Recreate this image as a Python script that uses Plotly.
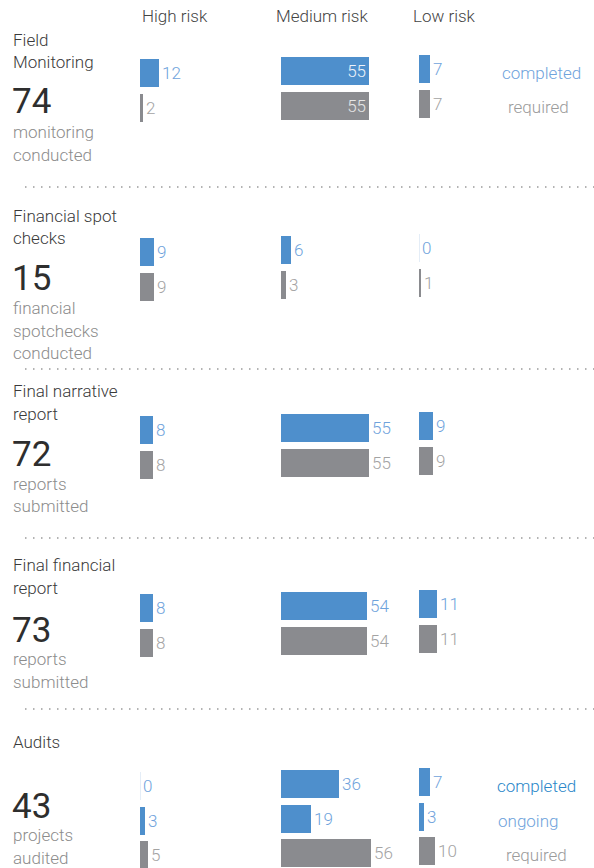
import plotly.graph_objects as go

# ---- data -----------------------------------------------------------------
risk_levels = ["High risk", "Medium risk", "Low risk"]

section_titles = ["Field<br>Monitoring", "Financial spot<br>checks",
                  "Final narrative<br>report", "Final financial<br>report", "Audits"]
section_totals = [74, 15, 72, 73, 43]
section_units = ["monitoring<br>conducted", "financial<br>spotchecks<br>conducted",
                 "reports<br>submitted", "reports<br>submitted", "projects<br>audited"]

completed = [[12, 55, 7], [9, 6, 0], [8, 55, 9], [8, 54, 11], [0, 36, 7]]
ongoing = [None, None, None, None, [3, 19, 3]]
required = [[2, 55, 7], [9, 3, 1], [8, 55, 9], [8, 54, 11], [5, 56, 10]]

# ---- styling / geometry -------------------------------------------------
W, H = 594, 868
FONT = "Roboto"
BLUE = "#4e8fcc"
GREY = "#8a8b8f"
BLUE_TXT = "#6fa3dc"
GREY_TXT = "#a3a3a3"
series_style = {
    "completed": (BLUE, BLUE_TXT, "#eef3fa"),
    "ongoing": (BLUE, BLUE_TXT, "#eef3fa"),
    "required": (GREY, GREY_TXT, "#e6e6e6"),
}
# per-section key labels: colour and horizontal centre (px)
legend_style = [
    {"completed": (BLUE_TXT, 541), "required": ("#9b9b9b", 538)},
    None, None, None,
    {"completed": ("#2a87c9", 536), "ongoing": (BLUE_TXT, 528), "required": ("#9b9b9b", 536)},
]

PX_PER_UNIT = 1.6
col_left = [140, 281, 419]
col_right = [280, 419, 594]
col_shift = [0, -1.5, -4]          # small vertical stagger per column
bar_top = [59, 238, 416, 594, 772]  # top edge of first bar row per section
PITCH = 34.5
BAR_H = 28

LEFT_X = 11
title_y = [40, 216, 391, 565, 742]
total_y = [102, 278, 454, 630, 806]
unit_y = [132, 308, 484, 659, 835]
LINE = 22.5
separators_y = [187, 369, 538, 709]
inside_label = {(0, 1)}

fig = go.Figure()
layout = dict(
    width=W, height=H, margin=dict(l=0, r=0, t=0, b=0),
    paper_bgcolor="white", plot_bgcolor="rgba(0,0,0,0)",
    showlegend=False, bargap=0,
    font=dict(family=FONT, size=17, color="#444"),
)

# x-axis per risk column, sharing a common px-per-unit scale
for c in range(3):
    key = "xaxis" if c == 0 else f"xaxis{c + 1}"
    layout[key] = dict(
        domain=[col_left[c] / W, col_right[c] / W],
        range=[0, (col_right[c] - col_left[c]) / PX_PER_UNIT],
        visible=False, fixedrange=True,
    )

shapes = []
annotations = []

for s in range(5):
    rows = [("completed", completed[s])]
    if ongoing[s] is not None:
        rows.append(("ongoing", ongoing[s]))
    rows.append(("required", required[s]))
    n = len(rows)

    for c in range(3):
        k = s * 3 + c + 1
        xref = "x" if c == 0 else f"x{c + 1}"
        yref = "y" if k == 1 else f"y{k}"
        ykey = "yaxis" if k == 1 else f"yaxis{k}"

        c0 = bar_top[s] + col_shift[c] + BAR_H / 2
        top_px = max(c0 - PITCH / 2, 0)
        bot_px = min(c0 + (n - 0.5) * PITCH, H)
        layout[ykey] = dict(
            domain=[1 - bot_px / H, 1 - top_px / H],
            range=[(bot_px - c0) / PITCH, (top_px - c0) / PITCH],
            anchor=xref, visible=False, fixedrange=True,
        )

        vals = [r[1][c] for r in rows]
        names = [r[0] for r in rows]
        inside = (s, c) in inside_label
        fig.add_trace(go.Bar(
            x=vals, y=list(range(n)), orientation="h",
            xaxis=xref, yaxis=yref, width=BAR_H / PITCH,
            marker=dict(color=[series_style[nm][0] for nm in names], line=dict(width=0)),
            text=[str(v) for v in vals],
            textposition="inside" if inside else "outside",
            insidetextanchor="end",
            textfont=dict(family=FONT, size=17, weight=300,
                          color=[series_style[nm][2 if inside else 1] for nm in names]),
            constraintext="none", cliponaxis=False, hoverinfo="skip",
        ))
        # zero-valued entries shown as a hairline at the baseline
        for i, v in enumerate(vals):
            if v == 0:
                shapes.append(dict(
                    type="line", xref=xref, yref=yref,
                    x0=v, x1=v, y0=i - BAR_H / PITCH / 2, y1=i + BAR_H / PITCH / 2,
                    line=dict(color="#c9dcef", width=1),
                ))

        if c == 0 and legend_style[s] is not None:
            for i, nm in enumerate(names):
                color, cx = legend_style[s][nm]
                annotations.append(dict(
                    text=nm, xref="paper", yref=yref, x=cx / W, y=i,
                    xanchor="center", yanchor="middle", showarrow=False,
                    font=dict(family=FONT, size=17, weight=300, color=color),
                ))

    # left-hand text block
    for j, line in enumerate(section_titles[s].split("<br>")):
        annotations.append(dict(
            text=line, xref="paper", yref="paper", x=LEFT_X / W,
            y=1 - (title_y[s] + j * LINE) / H, xanchor="left", yanchor="middle",
            showarrow=False, font=dict(family=FONT, size=17, weight=300, color="#3a3a3a"),
        ))
    annotations.append(dict(
        text=str(section_totals[s]), xref="paper", yref="paper", x=(LEFT_X - 1) / W,
        y=1 - total_y[s] / H, xanchor="left", yanchor="middle", showarrow=False,
        font=dict(family=FONT, size=35, weight=400, color="#2e2e2e"),
    ))
    for j, line in enumerate(section_units[s].split("<br>")):
        annotations.append(dict(
            text=line, xref="paper", yref="paper", x=LEFT_X / W,
            y=1 - (unit_y[s] + j * LINE) / H, xanchor="left", yanchor="middle",
            showarrow=False, font=dict(family=FONT, size=17, weight=300, color="#8c8c8c"),
        ))

# column headers
header_x = [175, 322, 444]
for c, name in enumerate(risk_levels):
    annotations.append(dict(
        text=name, xref="paper", yref="paper", x=header_x[c] / W, y=1 - 16 / H,
        xanchor="center", yanchor="middle", showarrow=False,
        font=dict(family=FONT, size=17, weight=300, color="#444"),
    ))

# dotted separators between sections
for yy in separators_y:
    shapes.append(dict(
        type="line", xref="paper", yref="paper", x0=25 / W, x1=1,
        y0=1 - yy / H, y1=1 - yy / H,
        line=dict(color="#9a9a9a", width=1.5, dash="1.5px,6.5px"),
    ))

layout["shapes"] = shapes
layout["annotations"] = annotations
fig.update_layout(**layout)
fig.write_html("out.html")
